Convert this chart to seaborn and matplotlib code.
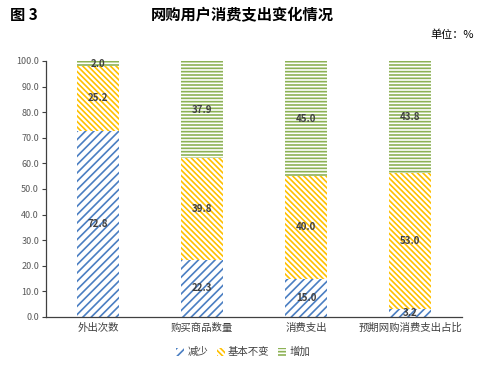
import matplotlib
matplotlib.use("Agg")
import matplotlib.pyplot as plt
import seaborn as sns
import pandas as pd
from matplotlib.patches import Patch

categories = ["外出次数", "购买商品数量", "消费支出", "预期网购消费支出占比"]
series_names = ["减少", "基本不变", "增加"]
decrease = [72.8, 22.3, 15.0, 3.2]
same = [25.2, 39.8, 40.0, 53.0]
increase = [2.0, 37.9, 45.0, 43.8]
yticks = [0, 10, 20, 30, 40, 50, 60, 70, 80, 90, 100]

sns.set_theme(style="white")
plt.rcParams['font.family'] = ['Noto Sans CJK SC', 'DejaVu Sans']
plt.rcParams['hatch.linewidth'] = 1.2

colors = ["#4A7EC2", "#FFC000", "#8DB255"]
hatches = ["////", "\\\\\\\\\\\\", "-----"]

fig = plt.figure(figsize=(4.84, 3.68), dpi=100)
ax = fig.add_axes([46/484, 1-317/368, 416/484, (317-61)/368])

df = pd.DataFrame({"cat": categories, "d": decrease, "s": same, "i": increase})
df["c1"] = df["d"]
df["c2"] = df["d"] + df["s"]
df["c3"] = df["d"] + df["s"] + df["i"]

layers = [("c3", 2), ("c2", 1), ("c1", 0)]
for col, idx in layers:
    sns.barplot(data=df, x="cat", y=col, ax=ax, width=0.40, color="white",
                edgecolor=colors[idx], linewidth=0, hatch=hatches[idx],
                order=categories)

for j in range(len(categories)):
    bottoms = [0, decrease[j], decrease[j] + same[j]]
    vals = [decrease[j], same[j], increase[j]]
    for b, v in zip(bottoms, vals):
        ax.text(j, b + v / 2, f"{v:.1f}", ha="center", va="center",
                fontsize=7, color="#404040", fontweight="bold")

ax.set_ylim(0, 100)
ax.set_xlim(-0.5, 3.5)
ax.set_yticks(yticks)
ax.set_yticklabels([f"{t:.1f}" for t in yticks], fontsize=6.5, color="#595959")
ax.tick_params(axis="x", labelsize=7.5, colors="#404040", length=0, pad=4)
ax.tick_params(axis="y", length=3, width=0.8, color="#404040", pad=2, left=True, direction="out")
ax.set_xlabel("")
ax.set_ylabel("")
for s in ["top", "right"]:
    ax.spines[s].set_visible(False)
for s in ["bottom", "left"]:
    ax.spines[s].set_color("#404040")
    ax.spines[s].set_linewidth(0.9)

fig.text(10/484, 1-15/368, "图 3", fontsize=11, fontweight="bold", va="center", ha="left", color="black")
fig.text(242/484, 1-15/368, "网购用户消费支出变化情况", fontsize=11, fontweight="bold", va="center", ha="center", color="black")
fig.text(474/484, 1-35/368, "单位：%", fontsize=8, va="center", ha="right", color="black")

handles = [Patch(facecolor="white", edgecolor=colors[i], hatch=hatches[i], linewidth=0, label=series_names[i]) for i in range(3)]
fig.legend(handles=handles, loc="center", bbox_to_anchor=(243/484, 1-352/368), ncol=3,
           frameon=False, fontsize=7.5, handlelength=0.8, handleheight=0.8,
           handletextpad=0.3, columnspacing=0.8, labelcolor="#404040")

fig.savefig("out.png", dpi=100)
